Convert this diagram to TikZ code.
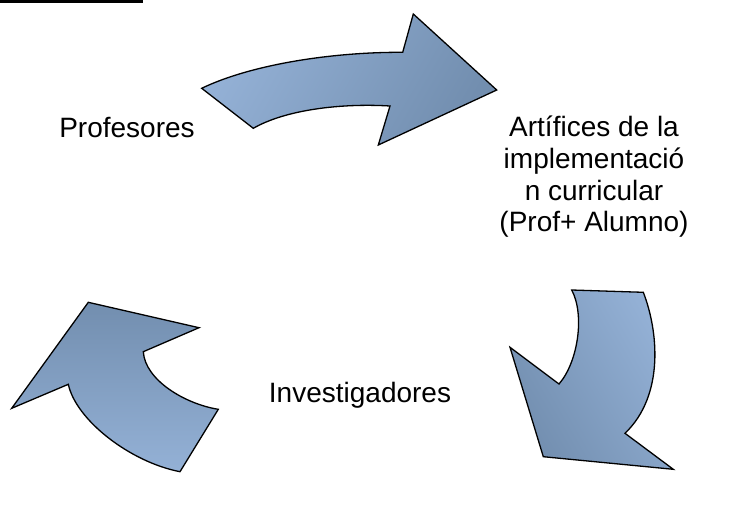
\documentclass[tikz,border=0pt]{standalone}
\usepackage{fontspec}
\setmainfont{Liberation Sans}
\usepackage{tikz}
\usetikzlibrary{positioning}
\definecolor{arrowlight}{RGB}{148,177,214}
\definecolor{arrowdark}{RGB}{114,142,175}

\begin{document}
\begin{tikzpicture}[x=1pt,y=-1pt]
				
				\tikzset{cycle arrow/.style={
						draw=black,
						line width=1.3pt,
						line join=miter,
						top color=arrowlight,
						bottom color=arrowdark,
						shading angle=#1
					},
					cycle arrow/.default=0,
					label text/.style={
						font=\fontsize{28}{31.7}\selectfont,
						inner sep=0pt,
						align=center
					}
				}
				\useasboundingbox (0,0) rectangle (743,511);
				
				% underline top left
				\draw[line width=3pt] (0,1.5) -- (143,1.5);
				
				% top arrow
				\shade[cycle arrow=60] (201.7,88.3)
					.. controls (250,65) and (330,52) .. (402.7,52.3)
					-- (413.3,14) -- (496.7,90) -- (378.3,145) -- (390,106)
					.. controls (340,103) and (285,110) .. (253.3,128.3)
					-- cycle;
				
				% right arrow
				\shade[cycle arrow=-60] (571.7,290) -- (643.3,292.3)
					.. controls (658,330) and (665,395) .. (625,433.3)
					-- (673.3,469.3) -- (543.3,456.7) -- (510,347.3) -- (559,384)
					.. controls (578,362) and (585,315) .. (571.7,290)
					-- cycle;
				
				% left arrow
				\shade[cycle arrow=180] (180,471.7) -- (218.3,409.3)
					.. controls (185,404) and (145,380) .. (143.3,351.7)
					-- (199,327.7) -- (88.3,302.3) -- (11.7,408.3) -- (68.3,384.3)
					.. controls (76,420) and (130,462) .. (180,471.7)
					-- cycle;
				
				\node[label text, anchor=base] (prof) at (127,137.3) {Profesores};
				\node[label text, anchor=base] (artif) at (594,231.8)
					{Artífices de la\\implementació\\n curricular\\(Prof+ Alumno)};
				\node[label text, anchor=base] (invest) at (360,402) {Investigadores};
				
\end{tikzpicture}
\end{document}
